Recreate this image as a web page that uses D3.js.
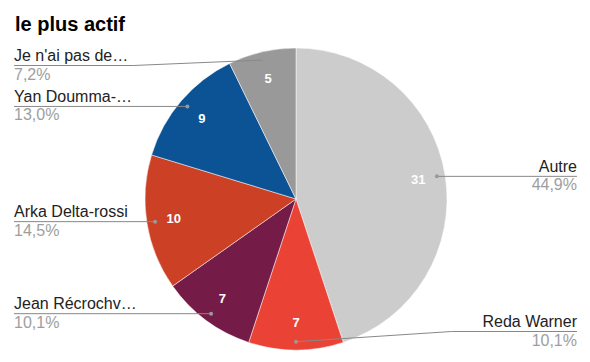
<!DOCTYPE html>
<html>
<head>
<meta charset="utf-8">
<script src="https://cdn.jsdelivr.net/npm/d3@7"></script>
<style>
  body { margin: 0; background: #fff; }
  svg text { font-family: Arial, "Liberation Sans", sans-serif; }
</style>
</head>
<body>
<div id="chart"></div>
<script>
const title = 'le plus actif';
const categories = ['Autre', 'Reda Warner', 'Jean Récrochv…', 'Arka Delta-rossi', 'Yan Doumma-…', "Je n'ai pas de…"];
const values = [31, 7, 7, 10, 9, 5];
const colors = ['#cccccc', '#ea4335', '#741b47', '#cc4125', '#0b5394', '#999999'];

let width = 590, height = 362;
let cx = 296, cy = 199, radius = 151;

let svg = d3.select('#chart')
    .append('svg')
    .attr('width', width)
    .attr('height', height);

svg.append('text')
    .attr('x', 15)
    .attr('y', 31)
    .style('font-size', '20px')
    .style('font-weight', 'bold')
    .style('fill', '#000')
    .text(title);

let total = d3.sum(values);
let data = categories.map((c, i) => ({name: c, value: values[i], color: colors[i]}));

let pie = d3.pie()
    .sort(null)
    .value(d => d.value);

let arc = d3.arc()
    .innerRadius(0)
    .outerRadius(radius);

let labelArc = d3.arc()
    .innerRadius(radius * 0.82)
    .outerRadius(radius * 0.82);

let dotArc = d3.arc()
    .innerRadius(radius * 0.945)
    .outerRadius(radius * 0.945);

let g = svg.append('g')
    .attr('transform', 'translate(' + cx + ',' + cy + ')');

let arcs = pie(data);

g.selectAll('path')
    .data(arcs)
    .enter()
    .append('path')
    .attr('d', arc)
    .style('fill', d => d.data.color)
    .style('stroke', '#fff')
    .style('stroke-width', 0.5);

g.selectAll('.val')
    .data(arcs)
    .enter()
    .append('text')
    .attr('class', 'val')
    .attr('transform', d => 'translate(' + labelArc.centroid(d) + ')')
    .attr('text-anchor', 'middle')
    .attr('dy', '0.35em')
    .style('font-size', '13px')
    .style('font-weight', 'bold')
    .style('fill', '#fff')
    .text(d => d.data.value);

// leader lines and outside labels
let leftX = 14, rightX = 577;
let pct = v => (v / total * 100).toFixed(1).replace('.', ',');

arcs.forEach(function (d) {
    let mid = (d.startAngle + d.endAngle) / 2;
    let right = mid <= Math.PI + 1e-6;
    let [dx, dy] = dotArc.centroid(d);
    let px = cx + dx, py = cy + dy;
    let lineY = Math.min(Math.max(py, 65.5), 331.5);
    let endX = right ? rightX : leftX;

    let lbl = svg.append('text')
        .attr('x', endX)
        .attr('y', lineY - 4.5)
        .attr('text-anchor', right ? 'end' : 'start')
        .style('font-size', '16px')
        .style('fill', '#222')
        .text(d.data.name);
    let tw = lbl.node().getComputedTextLength();

    svg.append('text')
        .attr('x', endX)
        .attr('y', lineY + 14)
        .attr('text-anchor', right ? 'end' : 'start')
        .style('font-size', '16px')
        .style('fill', '#9e9e9e')
        .text(pct(d.data.value) + '%');

    let pts;
    if (Math.abs(lineY - py) < 0.5) {
        pts = [[px, py], [endX, lineY]];
    } else {
        let kx = right ? endX - tw - 31 : endX + tw + 5;
        pts = [[px, py], [kx, lineY], [endX, lineY]];
    }
    svg.append('path')
        .attr('d', d3.line()(pts))
        .style('fill', 'none')
        .style('stroke', '#888')
        .style('stroke-width', 1);

    svg.append('circle')
        .attr('cx', px)
        .attr('cy', py)
        .attr('r', 2)
        .style('fill', '#999');
});
</script>
</body>
</html>
